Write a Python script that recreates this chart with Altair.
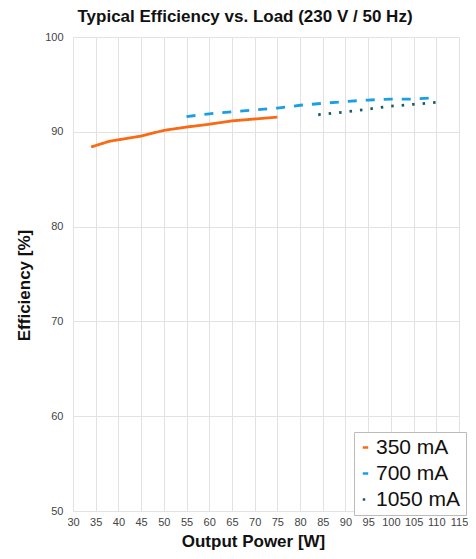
import altair as alt
import pandas as pd

p350 = [34, 38, 45, 50, 55, 60, 65, 70, 75]
e350 = [88.4, 89.0, 89.55, 90.15, 90.5, 90.8, 91.15, 91.35, 91.55]
p700 = [55, 60, 65, 70, 75, 80, 85, 90, 95, 100, 105, 110]
e700 = [91.6, 91.9, 92.1, 92.3, 92.5, 92.8, 93.0, 93.2, 93.35, 93.45, 93.45, 93.6]
p1050 = [84, 90, 95, 100, 105, 110]
e1050 = [91.8, 92.1, 92.4, 92.7, 92.9, 93.1]

series = ["350 mA", "700 mA", "1050 mA"]
colors = ["#fa6a14", "#1a9fe3", "#1b5c63"]
dashes = [[1, 0], [9, 9], [2.5, 8]]
x_ticks = list(range(30, 116, 5))
y_ticks = list(range(50, 101, 10))

rows = []
for name, ps, es in zip(series, [p350, p700, p1050], [e350, e700, e1050]):
    for p, e in zip(ps, es):
        rows.append({"series": name, "power": p, "eff": e})
df = pd.DataFrame(rows)

font = "Liberation Sans"

chart = alt.Chart(df).mark_line(strokeWidth=2.8).encode(
    x=alt.X("power:Q", scale=alt.Scale(domain=[30, 115], nice=False),
            axis=alt.Axis(values=x_ticks, title="Output Power [W]", titleX=180,
                          labelOverlap=False, labelFlush=False)),
    y=alt.Y("eff:Q", scale=alt.Scale(domain=[50, 100], nice=False),
            axis=alt.Axis(values=y_ticks, title="Efficiency [%]", titleY=248, labelFlush=False)),
    color=alt.Color("series:N", scale=alt.Scale(domain=series, range=colors),
                    legend=alt.Legend(title=None, orient="none", legendX=281, legendY=395,
                                      symbolType="stroke", symbolSize=30, symbolStrokeWidth=2.5,
                                      labelFontSize=21, labelFont=font, labelColor="#111",
                                      padding=5, rowPadding=4, symbolOffset=-4, labelOffset=0,
                                      strokeColor="#bbbbbb", fillColor="white")),
    strokeDash=alt.StrokeDash("series:N", scale=alt.Scale(domain=series, range=dashes), legend=None),
    order=alt.Order("power:Q"),
).properties(
    width=386, height=474,
    title=alt.TitleParams("Typical Efficiency vs. Load (230 V / 50 Hz)", fontSize=17,
                          font=font, fontWeight="bold", color="#111", dx=-21, offset=5),
    autosize=alt.AutoSizeParams(type="none"),
    padding={"left": 65, "top": 29, "right": 9, "bottom": 42},
).configure_axis(
    grid=True, gridColor="#e2e2e2", gridWidth=1, domain=False, ticks=False,
    labelFont=font, labelFontSize=11, labelColor="#444", labelPadding=10,
    titleFont=font, titleFontSize=17, titleFontWeight="bold", titleColor="#111",
).configure_axisY(titlePadding=11).configure_axisX(titlePadding=6, labelPadding=5).configure_view(stroke=None)

chart.save("out.html", embed_options={"renderer": "svg", "actions": False})
